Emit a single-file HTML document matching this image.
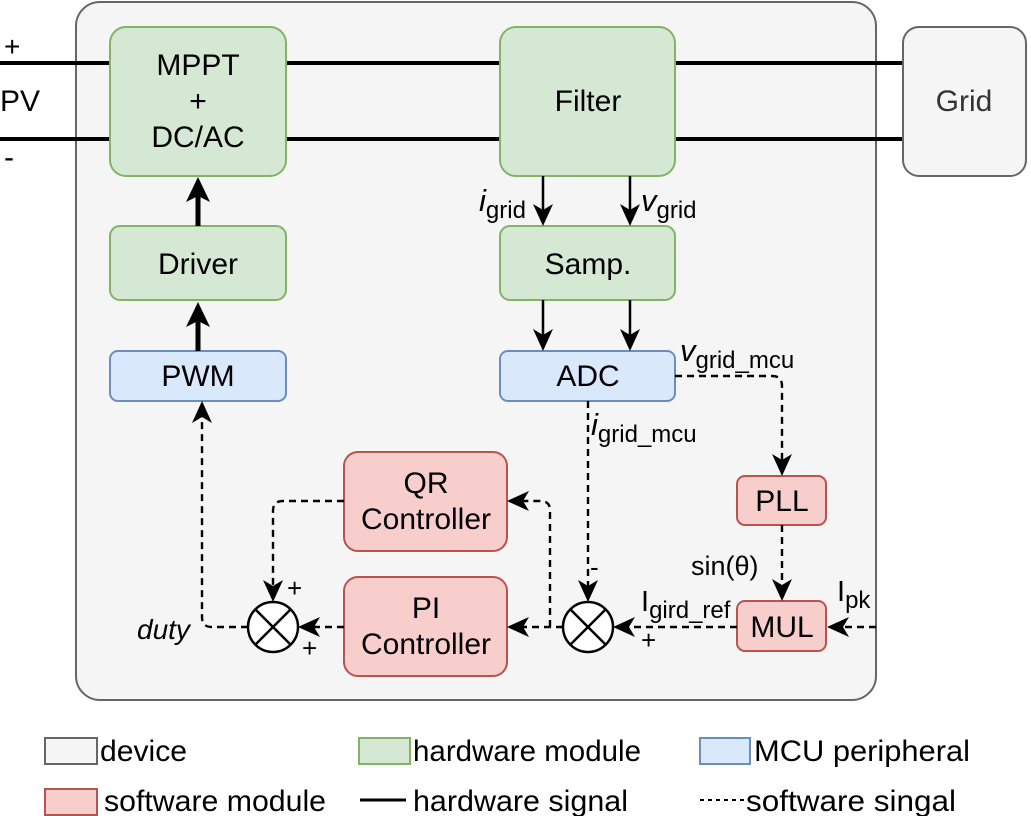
<!DOCTYPE html>
<html><head><meta charset="utf-8"><style>
html,body{margin:0;padding:0;background:#fff;}
svg{display:block;font-family:"Liberation Sans",Arial,sans-serif;}
</style></head><body>
<svg width="1031" height="816" viewBox="0 0 1031 816" xmlns="http://www.w3.org/2000/svg">
<rect x="76" y="2" width="800" height="698" rx="24" fill="#f5f5f5" stroke="#666" stroke-width="2"/>
<line x1="0" y1="63" x2="904" y2="63" stroke="#000" stroke-width="4"/>
<line x1="0" y1="139" x2="904" y2="139" stroke="#000" stroke-width="4"/>
<text x="4" y="56" font-size="28">+</text>
<text x="0" y="111" font-size="30">PV</text>
<text x="4" y="167" font-size="30">-</text>
<g stroke-width="2">
<rect x="110" y="27" width="176" height="149" rx="16" fill="#d5e8d4" stroke="#82b366"/>
<rect x="500" y="27" width="175" height="149" rx="16" fill="#d5e8d4" stroke="#82b366"/>
<rect x="903" y="27" width="123" height="149" rx="16" fill="#f5f5f5" stroke="#666"/>
<rect x="110" y="226" width="176" height="74" rx="10" fill="#d5e8d4" stroke="#82b366"/>
<rect x="500" y="226" width="175" height="74" rx="10" fill="#d5e8d4" stroke="#82b366"/>
<rect x="110" y="351" width="176" height="50" rx="8" fill="#dae8fc" stroke="#6c8ebf"/>
<rect x="500" y="351" width="175" height="50" rx="8" fill="#dae8fc" stroke="#6c8ebf"/>
<rect x="344" y="452" width="163" height="99" rx="14" fill="#f8cecc" stroke="#b85450"/>
<rect x="344" y="577" width="163" height="99" rx="14" fill="#f8cecc" stroke="#b85450"/>
<rect x="737" y="476" width="89" height="49" rx="8" fill="#f8cecc" stroke="#b85450"/>
<rect x="737" y="601" width="89" height="50" rx="8" fill="#f8cecc" stroke="#b85450"/>
</g>
<g font-size="30" text-anchor="middle" fill="#000">
<text x="198" y="75">MPPT</text><text x="198" y="111">+</text><text x="198" y="147">DC/AC</text>
<text x="588" y="111">Filter</text>
<text x="964" y="111" fill="#333">Grid</text>
<text x="198" y="274">Driver</text>
<text x="588" y="274">Samp.</text>
<text x="198" y="386">PWM</text>
<text x="588" y="386">ADC</text>
<text x="426" y="493">QR</text><text x="426" y="529">Controller</text>
<text x="426" y="618">PI</text><text x="426" y="654">Controller</text>
<text x="782" y="511">PLL</text>
<text x="782" y="637">MUL</text>
</g>
<g stroke="#000" fill="none">
<line x1="198" y1="226" x2="198" y2="192" stroke-width="5"/>
<line x1="198" y1="351" x2="198" y2="317" stroke-width="5"/>
<line x1="543" y1="176" x2="543" y2="210" stroke-width="2.5"/>
<line x1="630" y1="176" x2="630" y2="210" stroke-width="2.5"/>
<line x1="543" y1="300" x2="543" y2="335" stroke-width="2.5"/>
<line x1="630" y1="300" x2="630" y2="335" stroke-width="2.5"/>
</g>
<g fill="#000">
<polygon points="198,177 186,202 198,196 210,202"/>
<polygon points="198,302 186,327 198,321 210,327"/>
<polygon points="543,226 533,204 543,210 553,204"/>
<polygon points="630,226 620,204 630,210 640,204"/>
<polygon points="543,351 533,329 543,335 553,329"/>
<polygon points="630,351 620,329 630,335 640,329"/>
</g>
<text x="479" y="211" font-size="31"><tspan font-style="italic">i</tspan><tspan font-size="24" dy="7">grid</tspan></text>
<text x="641" y="211" font-size="31"><tspan font-style="italic">v</tspan><tspan font-size="24" dy="7">grid</tspan></text>
<g stroke="#000" stroke-width="2.4" fill="none" stroke-dasharray="7,5">
<path d="M588,401 V588"/>
<path d="M675,376 H772 Q782,376 782,386 V462"/>
<path d="M782,525 V588"/>
<path d="M876,627 H842"/>
<path d="M737,627 H628"/>
<path d="M563,627 H522"/>
<path d="M550,627 V510 Q550,501 540,501 H522"/>
<path d="M344,627 H314"/>
<path d="M344,501 H283 Q273,501 273,511 V588"/>
<path d="M248,627 H212 Q202,627 202,617 V416"/>
</g>
<g fill="#000">
<polygon points="588,602 578,580 588,586 598,580"/>
<polygon points="782,476 772,454 782,460 792,454"/>
<polygon points="782,601 772,579 782,585 792,579"/>
<polygon points="273,602 263,580 273,586 283,580"/>
<polygon points="202,401 192,423 202,417 212,423"/>
<polygon points="827,627 849,617 843,627 849,637"/>
<polygon points="613,627 635,617 629,627 635,637"/>
<polygon points="507,627 529,617 523,627 529,637"/>
<polygon points="507,501 529,491 523,501 529,511"/>
<polygon points="298,627 320,617 314,627 320,637"/>
</g>
<g stroke="#000" stroke-width="2.5" fill="#fff">
<circle cx="273" cy="627" r="25"/>
<circle cx="588" cy="627" r="25"/>
</g>
<g stroke="#000" stroke-width="2.5">
<line x1="255" y1="609" x2="291" y2="645"/><line x1="291" y1="609" x2="255" y2="645"/>
<line x1="570" y1="609" x2="606" y2="645"/><line x1="606" y1="609" x2="570" y2="645"/>
</g>
<g font-size="26">
<text x="287" y="597">+</text><text x="302" y="657">+</text>
<text x="590" y="576">-</text><text x="641" y="649">+</text>
</g>
<text x="137" y="639" font-size="28" font-style="italic">duty</text>
<text x="680" y="361" font-size="31"><tspan font-style="italic">v</tspan><tspan font-size="24" dy="7">grid_mcu</tspan></text>
<text x="591" y="435" font-size="31"><tspan font-style="italic">i</tspan><tspan font-size="24" dy="7">grid_mcu</tspan></text>
<text x="691" y="575" font-size="27">sin(θ)</text>
<text x="641" y="611" font-size="29">I<tspan font-size="24" dy="7">gird_ref</tspan></text>
<text x="837" y="601" font-size="29">I<tspan font-size="24" dy="7">pk</tspan></text>
<g stroke-width="2">
<rect x="45" y="738" width="52" height="26" fill="#f5f5f5" stroke="#666"/>
<rect x="359" y="738" width="51" height="26" fill="#d5e8d4" stroke="#82b366"/>
<rect x="700" y="738" width="50" height="26" fill="#dae8fc" stroke="#6c8ebf"/>
<rect x="45" y="789" width="52" height="26" fill="#f8cecc" stroke="#b85450"/>
</g>
<line x1="360" y1="800" x2="406" y2="800" stroke="#000" stroke-width="3"/>
<line x1="700" y1="800" x2="746" y2="800" stroke="#000" stroke-width="2" stroke-dasharray="4,4"/>
<g font-size="30">
<text x="100" y="761" textLength="87" lengthAdjust="spacingAndGlyphs">device</text>
<text x="413" y="761" textLength="228" lengthAdjust="spacingAndGlyphs">hardware module</text>
<text x="754" y="761" textLength="216" lengthAdjust="spacingAndGlyphs">MCU peripheral</text>
<text x="104" y="811" textLength="222" lengthAdjust="spacingAndGlyphs">software module</text>
<text x="413" y="811" textLength="215" lengthAdjust="spacingAndGlyphs">hardware signal</text>
<text x="746" y="811" textLength="210" lengthAdjust="spacingAndGlyphs">software singal</text>
</g>
</svg>
</body></html>
